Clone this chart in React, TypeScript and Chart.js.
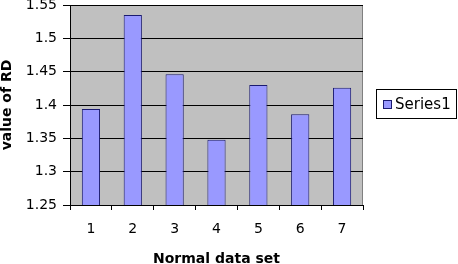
import React, { useEffect, useRef } from "react";
import { Chart, registerables } from "chart.js";

Chart.register(...registerables);

const categories: string[] = ["1", "2", "3", "4", "5", "6", "7"];
const seriesLabel = "Series1";
const seriesValues: number[] = [1.394, 1.535, 1.446, 1.348, 1.43, 1.386, 1.426];
const yMin = 1.25;
const yMax = 1.55;
const yStep = 0.05;
const xTitle = "Normal data set";
const yTitle = "value of RD";

const FONT = "'DejaVu Sans', 'Liberation Sans', Arial, sans-serif";
const BAR_FILL = "#9999FF";
const BAR_EDGE = "#1a1a70";
const PLOT_BG = "#C0C0C0";

const plotBgPlugin = {
  id: "plotBg",
  beforeDraw(chart: any) {
    const { ctx, chartArea } = chart;
    const { left, top, right, bottom } = chartArea;
    ctx.save();
    ctx.fillStyle = PLOT_BG;
    ctx.fillRect(left, top, right - left, bottom - top);
    ctx.strokeStyle = "#808080";
    ctx.lineWidth = 1;
    ctx.strokeRect(left + 0.5, top + 0.5, right - left - 1, bottom - top);
    ctx.restore();
  },
};

const legendBoxPlugin = {
  id: "legendBox",
  afterDraw(chart: any) {
    const { ctx } = chart;
    const ds = chart.data.datasets[0];
    ctx.save();
    const bx = 376.5, by = 89.5, bw = 80, bh = 29;
    ctx.fillStyle = "#ffffff";
    ctx.fillRect(bx, by, bw, bh);
    ctx.strokeStyle = "#000000";
    ctx.lineWidth = 1;
    ctx.strokeRect(bx, by, bw, bh);
    ctx.fillStyle = ds.backgroundColor;
    ctx.fillRect(383.5, 100.5, 8, 8);
    ctx.strokeStyle = ds.borderColor;
    ctx.strokeRect(383.5, 100.5, 8, 8);
    ctx.fillStyle = "#000000";
    ctx.font = `15px ${FONT}`;
    ctx.textBaseline = "middle";
    ctx.textAlign = "left";
    ctx.fillText(ds.label, 395, 105);
    ctx.restore();
  },
};

export default function App() {
  const ref = useRef<HTMLCanvasElement | null>(null);

  useEffect(() => {
    document.body.style.margin = "0";
    if (!ref.current) return;
    const chart = new Chart(ref.current, {
      type: "bar",
      data: {
        labels: categories,
        datasets: [
          {
            label: seriesLabel,
            data: seriesValues,
            backgroundColor: BAR_FILL,
            borderColor: BAR_EDGE,
            borderWidth: 1,
            borderSkipped: false,
            categoryPercentage: 1,
            barPercentage: 0.435,
          },
        ],
      },
      options: {
        animation: false,
        responsive: false,
        maintainAspectRatio: false,
        devicePixelRatio: 1,
        layout: { padding: { left: 0, top: 5, right: 95, bottom: 0 } },
        plugins: {
          legend: { display: false },
          tooltip: { enabled: false },
          title: { display: false },
        },
        scales: {
          x: {
            offset: true,
            grid: {
              display: true,
              drawOnChartArea: false,
              drawTicks: true,
              tickLength: 5,
              color: "#000000",
              offset: true,
            },
            border: { display: true, color: "#000000", width: 1 },
            ticks: {
              color: "#000000",
              font: { family: FONT, size: 14 },
              padding: 11,
              maxRotation: 0,
            },
            title: {
              display: true,
              text: xTitle,
              color: "#000000",
              font: { family: FONT, size: 14, weight: "bold", lineHeight: 1 },
              padding: { top: 0, bottom: -2 },
            },
            afterFit(scale: any) {
              scale.height = 59;
              scale.paddingLeft = 0;
              scale.paddingRight = 0;
            },
          },
          y: {
            min: yMin,
            max: yMax,
            ticks: {
              stepSize: yStep,
              color: "#000000",
              font: { family: FONT, size: 14 },
              padding: 6,
              callback: (v: any) => String(Math.round(Number(v) * 100) / 100),
            },
            grid: {
              display: true,
              drawOnChartArea: true,
              drawTicks: true,
              tickLength: 7,
              color: "#000000",
            },
            border: { display: true, color: "#000000", width: 1 },
            title: {
              display: true,
              text: yTitle,
              color: "#000000",
              font: { family: FONT, size: 14, weight: "bold", lineHeight: 1 },
              padding: { top: 0, bottom: 0 },
            },
            afterFit(scale: any) {
              scale.width = 70;
              scale.paddingTop = 0;
              scale.paddingBottom = 0;
            },
          },
        },
      },
      plugins: [plotBgPlugin, legendBoxPlugin],
    });
    return () => chart.destroy();
  }, []);

  return (
    <div style={{ position: "absolute", left: 0, top: 0, width: 458, height: 264, background: "#ffffff" }}>
      <canvas ref={ref} width={458} height={264} style={{ width: 458, height: 264, display: "block" }} />
    </div>
  );
}
